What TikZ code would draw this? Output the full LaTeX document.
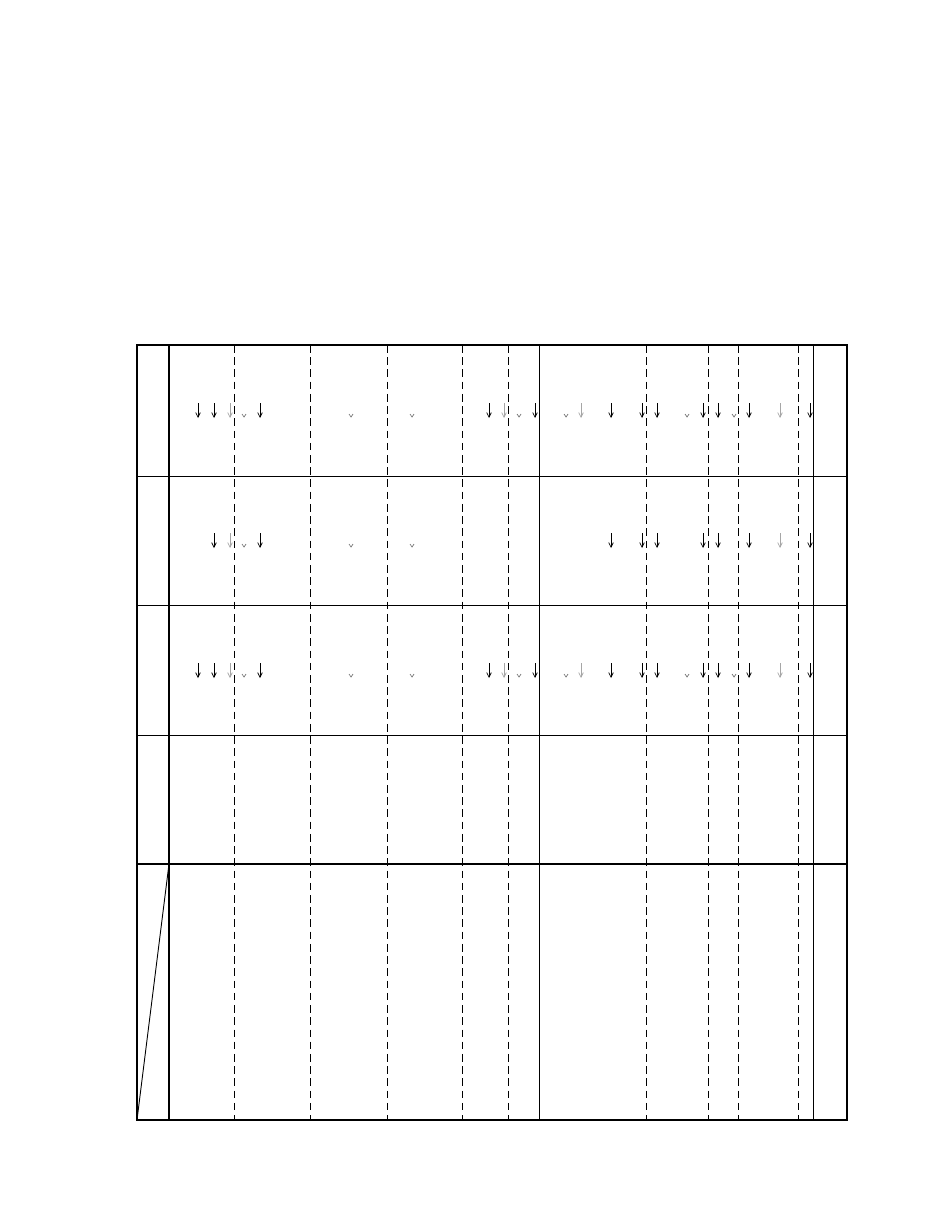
\documentclass[tikz,border=0pt]{standalone}
\usepackage{tikz}
\usetikzlibrary{arrows.meta}

\tikzset{
  frame/.style={line width=1.2pt},
  rule/.style={line width=0.6pt},
  sepline/.style={line width=0.45pt, dash pattern=on 5pt off 3pt},
  downarrow/.style={line width=0.5pt, -{Straight Barb[length=3pt,width=3pt]}},
  faintarrow/.style={downarrow, draw=black!35},
  tiparrow/.style={line width=0.45pt, draw=black!55}
}

\begin{document}
\begin{tikzpicture}[x=0.6545pt, y=-0.6545pt]
  \useasboundingbox (0,0) rectangle (935,1210);

  % outer frame and row rules
  \draw[frame] (137,345) rectangle (847,1120);
  \draw[frame] (169,345) -- (169,1120);
  \foreach \y in {476,605,735} \draw[rule] (137,\y) -- (847,\y);
  \draw[frame] (137,864) -- (847,864);

  % solid column rules
  \draw[rule] (539,345) -- (539,1120);
  \draw[rule] (813,345) -- (813,1120);

  % dashed column rules
  \foreach \x in {234,310,387,462,508,646,708,738,798}
    \draw[sepline] (\x,345) -- (\x,1120);

  % diagonal in the corner cell
  \draw[rule] (169,864) -- (137,1120);

  % arrow marks, one row at a time
  \foreach \t in {403,663} {
    \foreach \x in {198,214,260,489,535,611,642,657,703,718,749,810}
      \draw[downarrow] (\x,\t) -- (\x,\t+15);
    \foreach \x in {230,504,581,780}
      \draw[faintarrow] (\x,\t) -- (\x,\t+15);
    \foreach \x in {244,351,412,519,566,687,734}
      \draw[tiparrow] (\x-2,\t+11) -- (\x,\t+14) -- (\x+2,\t+11);
  }

  % middle row has fewer marks
  \foreach \x in {214,260,611,642,657,703,718,749,810}
    \draw[downarrow] (\x,533) -- (\x,548);
  \foreach \x in {230,780}
    \draw[faintarrow] (\x,533) -- (\x,548);
  \foreach \x in {244,351,412}
    \draw[tiparrow] (\x-2,544) -- (\x,547) -- (\x+2,544);
\end{tikzpicture}
\end{document}
